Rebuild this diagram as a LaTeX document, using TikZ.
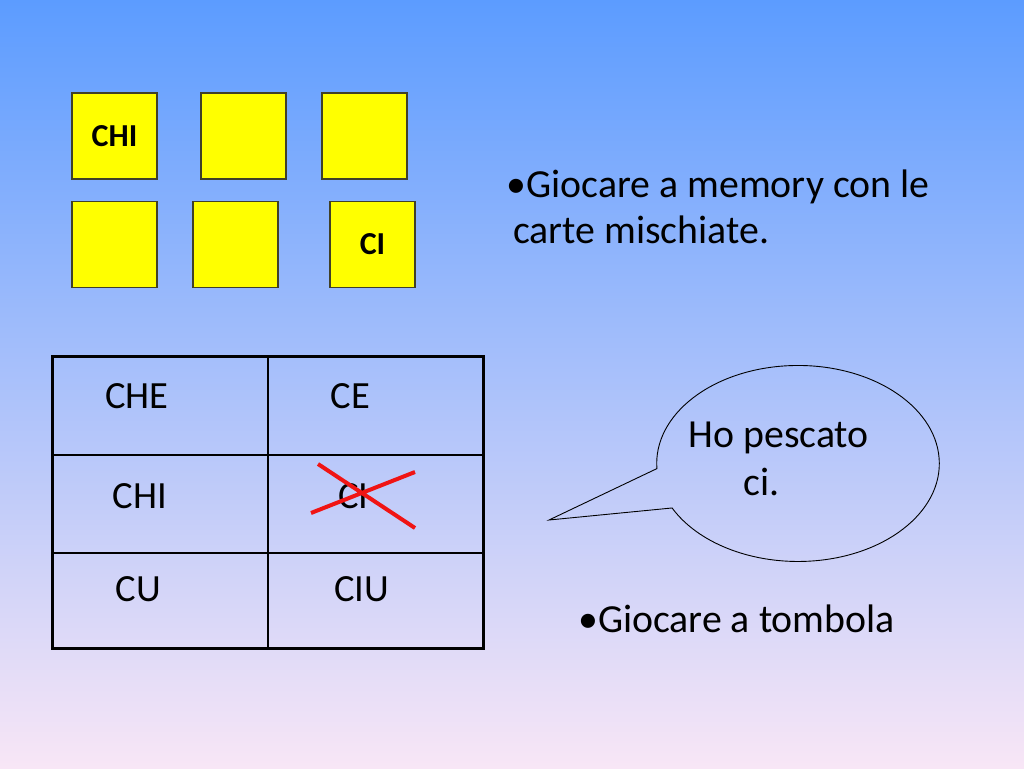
\documentclass[tikz,border=0pt]{standalone}
\usepackage{fontspec}
\setmainfont{Carlito}
\usepackage{xcolor}
\definecolor{slidetop}{RGB}{92,156,255}
\definecolor{slidemid}{RGB}{150,197,250}
\definecolor{slidebot}{RGB}{248,230,246}
\definecolor{cardyellow}{RGB}{255,255,0}
\definecolor{cardedge}{RGB}{64,64,40}
\definecolor{crossred}{RGB}{240,20,20}
\usepackage{tikz}
\usetikzlibrary{positioning}

\begin{document}
\begin{tikzpicture}[x=1pt, y=-1pt,
  card/.style={draw=cardedge, line width=1.2pt, fill=cardyellow, minimum width=85pt, minimum height=86pt, inner sep=0pt, font=\fontsize{32}{38}\selectfont\bfseries},
  slidetext/.style={anchor=base west, inner sep=0pt, font=\fontsize{39.8}{47.6}\selectfont},
  celltext/.style={anchor=base west, inner sep=0pt, font=\fontsize{38.5}{45}\selectfont}]
  % Background
  \fill[top color=slidetop, middle color=slidemid, bottom color=slidebot] (0,0) rectangle (1024,768);
  \useasboundingbox (0,0) rectangle (1024,768);

  % Memory cards
  \foreach \name/\x/\y/\word in {card1/114.5/136/CHI, card2/243.5/136/{}, card3/364.5/136/{},
                                 card4/114.5/244.5/{}, card5/235.5/244.5/{}, card6/372.5/244.5/CI}
    \node[card] (\name) at (\x,\y) {\word};

  % Bullet text
  \node[slidetext] (memory) at (506.5,197) {•Giocare a memory con le};
  \node[slidetext] (mischiate) at (513,243) {carte mischiate.};
  \node[slidetext] (tombola) at (578,632) {•Giocare a tombola};

  % Table
  \draw[line width=3pt] (52,356) rectangle (483,648);
  \draw[line width=1.3pt] (268,356) -- (268,648);
  \draw[line width=1.3pt] (52,455) -- (483,455) (52,553) -- (483,553);

  % Table words
  \node[celltext] (che) at (105,408.3) {CHE};
  \node[celltext] (ce) at (330.5,408.3) {CE};
  \node[celltext] (chi) at (112.5,508.3) {CHI};
  \node[celltext] (ci) at (338,508.3) {CI};
  \node[celltext] (cu) at (115.5,601.7) {CU};
  \node[celltext] (ciu) at (334,601.7) {CIU};

  % Crossed out
  \draw[crossred, line width=4pt] (318,464) -- (415,528) (311,513) -- (415,472);

  % Speech bubble
  \draw[line width=0.9pt] (549,520) -- (656.9,468.6)
    arc[start angle=177, end angle=513, x radius=141.3, y radius=98] -- cycle;
  \node[slidetext] (pescato) at (688.4,447.5) {Ho pescato};
  \node[slidetext] (pescatoci) at (743,495) {ci.};
\end{tikzpicture}
\end{document}
